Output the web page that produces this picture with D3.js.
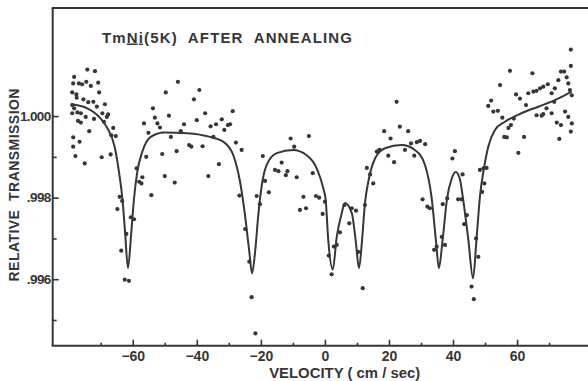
<!DOCTYPE html>
<html>
<head>
<meta charset="utf-8">
<script src="https://cdn.jsdelivr.net/npm/d3@7"></script>
<style>
  html, body { margin: 0; padding: 0; background: #fff; }
  svg { display: block; }
  text { font-family: "Liberation Sans", Arial, sans-serif; fill: #363636; }
</style>
</head>
<body>
<svg id="chart" width="588" height="381"></svg>
<script>
// Mössbauer spectrum of TmNi at 5 K after annealing.
// Transmission values are stored ×1000 (1000 = relative transmission 1.000).

// Measured points: source velocity (cm/sec) and relative transmission ×1000
const pointVelocity = [
  -74.2, -71.8, -78.3, -78.6, -76.8, -75.8, -74.5, -73.1, -70.8, -70.5,
  -78.9, -77.6, -77.5, -75.4, -73.9, -72.3, -71.2, -68.7, -78.9, -78.3,
  -77.3, -76.2, -74.7, -78.9, -72.1, -69.5, -67.7, -68.1, -77.1, -76.2,
  -69.0, -73.6, -66.1, -66.7, -65.3, -78.6, -76.6, -78.6, -77.9, -75.0,
  -69.7, -66.9, -64.1, -63.3, -64.8, -60.6, -59.6, -62.0, -63.6, -62.5,
  -61.2, -58.8, -58.0, -57.3, -57.0, -55.8, -54.2, -56.5, -55.1, -53.7,
  -53.1, -52.3, -51.5, -49.7, -48.7, -45.9, -44.0, -50.8, -48.1, -46.3,
  -50.0, -46.9, -42.4, -41.7, -45.0, -39.2, -40.9, -37.4, -40.0, -35.7,
  -34.0, -32.2, -31.4, -30.3, -29.6, -28.8, -38.2, -34.8, -33.1, -36.4,
  -27.8, -26.0, -26.7, -24.9, -23.6, -22.9, -21.7, -21.3, -20.3, -18.7,
  -19.4, -17.5, -15.6, -14.5, -13.5, -11.7, -12.2, -10.7, -9.6, -8.8,
  -5.0, -3.8, -6.7, -7.8, -5.9, -2.8, -1.8, 0.0, -0.7, 1.2,
  2.1, 2.8, 3.7, 4.7, 6.1, 7.6, 8.4, 9.7, 10.4, 11.8,
  12.5, 15.1, 22.4, 18.5, 20.5, 23.4, 26.0, 16.2, 17.0, 19.8,
  21.6, 25.0, 26.9, 28.7, 29.7, 31.3, 27.9, 13.1, 14.1, 30.5,
  32.0, 32.8, 34.1, 34.9, 36.5, 37.5, 36.8, 38.2, 39.8, 40.6,
  41.6, 42.7, 43.0, 43.5, 44.3, 47.2, 47.9, 45.8, 46.5, 49.1,
  49.8, 48.4, 49.5, 50.5, 51.0, 51.9, 52.6, 54.0, 54.7, 55.4,
  57.3, 58.1, 59.0, 56.0, 56.8, 57.8, 59.7, 60.9, 62.2, 60.4,
  62.8, 63.5, 64.8, 65.1, 66.1, 67.2, 68.2, 69.6, 70.8, 71.8,
  71.6, 69.2, 68.2, 66.1, 67.7, 70.8, 72.4, 73.7, 73.2, 75.0,
  76.0, 77.1, 76.8, 74.7, 73.7, 72.9, 75.5, 76.0, 76.8, 76.8,
  76.5, 77.1
];
const pointTransmission = [
  1001.14, 1001.10, 1000.96, 1000.80, 1000.80, 1000.78, 1000.84, 1000.74, 1000.82, 1000.58,
  1000.58, 1000.53, 1000.45, 1000.41, 1000.34, 1000.35, 1000.23, 1000.29, 1000.27, 1000.19,
  1000.09, 1000.07, 999.98, 1000.07, 999.93, 1000.07, 1000.04, 999.98, 999.88, 999.84,
  999.86, 999.63, 999.71, 999.53, 999.51, 999.48, 999.37, 999.25, 999.02, 998.84,
  998.99, 999.06, 998.02, 997.92, 997.72, 997.52, 997.47, 997.11, 996.70, 995.99,
  995.96, 998.72, 998.39, 998.35, 998.50, 999.00, 998.06, 999.82, 999.59, 1000.19,
  999.96, 999.82, 999.72, 1000.58, 1000.01, 1000.84, 999.80, 999.07, 999.49, 999.14,
  998.53, 998.37, 999.29, 999.25, 999.63, 1000.64, 1000.41, 1000.07, 999.90, 999.75,
  999.80, 999.92, 999.66, 999.78, 999.80, 1000.12, 999.26, 999.49, 998.82, 998.53,
  999.35, 999.17, 998.05, 997.23, 996.43, 995.56, 994.67, 998.04, 997.84, 998.41,
  999.02, 998.13, 998.68, 998.65, 998.86, 998.65, 998.55, 999.45, 999.25, 998.50,
  999.51, 998.60, 998.02, 997.70, 997.74, 998.04, 998.00, 997.90, 997.60, 996.58,
  996.12, 996.80, 996.84, 997.15, 997.82, 997.37, 997.74, 997.68, 996.67, 995.78,
  997.82, 998.35, 1000.35, 999.63, 999.45, 999.74, 999.63, 999.13, 999.17, 999.03,
  998.87, 999.17, 999.33, 999.36, 999.39, 999.31, 999.03, 998.73, 998.57, 997.96,
  997.78, 997.74, 996.72, 996.80, 997.04, 996.84, 997.84, 997.98, 998.96, 999.14,
  997.96, 997.96, 998.57, 997.35, 997.57, 997.00, 996.55, 995.82, 995.51, 998.14,
  998.35, 998.68, 998.72, 998.73, 1000.25, 1000.38, 1000.11, 1000.13, 1000.76, 999.96,
  999.71, 999.78, 999.94, 999.49, 999.48, 1001.11, 1000.53, 1000.43, 999.49, 999.10,
  1000.27, 1000.56, 1001.05, 1000.60, 1000.62, 1000.68, 1000.72, 1000.78, 1000.56, 1000.68,
  1000.35, 1000.19, 1000.05, 1000.02, 1000.01, 1000.07, 999.84, 999.78, 999.44, 1000.11,
  999.98, 999.82, 999.62, 1001.09, 1001.09, 1000.88, 1000.95, 1000.80, 1001.23, 1001.63,
  1000.64, 1000.51
];

// Fitted spectrum (six absorption lines), sampled along the velocity axis
const fitVelocity = [
  -79.2, -74.2, -70.0, -67.9, -65.8, -64.3, -63.25, -62.4, -61.5, -60.45,
  -59.6, -58.6, -57.0, -54.4, -50.2, -43.0, -35.9, -31.7, -28.6, -26.5,
  -24.95, -23.6, -22.75, -21.8, -20.8, -19.7, -18.2, -15.05, -9.9, -5.7,
  -2.55, -0.5, 0.25, 1.05, 2.45, 3.7, 5.25, 6.25, 8.4, 9.6,
  10.65, 11.6, 12.5, 13.55, 15.65, 18.75, 24.0, 28.1, 31.25, 33.35,
  34.7, 35.6, 36.7, 38.15, 39.6, 40.85, 42.1, 43.2, 44.8, 46.25,
  47.4, 48.4, 49.75, 51.0, 53.1, 56.2, 61.4, 66.6, 71.8, 77.05
];
const fitTransmission = [
  1000.29, 1000.19, 999.94, 999.70, 999.29, 998.63, 997.98, 997.16, 996.27, 997.16,
  997.98, 998.63, 999.13, 999.49, 999.60, 999.58, 999.49, 999.37, 999.04, 998.39,
  997.57, 996.67, 996.14, 996.67, 997.57, 998.31, 998.80, 999.09, 999.17, 999.04,
  998.72, 998.23, 997.94, 996.96, 996.24, 997.04, 997.62, 997.87, 997.62, 996.96,
  996.27, 996.96, 997.86, 998.39, 998.96, 999.21, 999.29, 999.17, 998.80, 997.98,
  996.92, 996.27, 996.92, 997.98, 998.47, 998.63, 998.47, 997.94, 996.96, 996.02,
  997.04, 998.02, 998.76, 999.25, 999.66, 999.86, 1000.07, 1000.23, 1000.39, 1000.60
];

// Axis ticks
const xMajorTicks = [-60, -40, -20, 0, 20, 40, 60];
const xMinorTicks = [-70, -50, -30, -10, 10, 30, 50, 70];
const yMajorTicks = [1000, 998, 996];
const yMajorLabels = ["1.000", ".998", ".996"];
const yMinorTicks = [999, 997, 995];

const titleParts = ["Tm", "Ni", "(5K)  AFTER  ANNEALING"];
const xTitle = "VELOCITY ( cm / sec)";
const yTitle = "RELATIVE  TRANSMISSION";

const ink = "#363636";
const svg = d3.select("#chart");

const x = d3.scaleLinear().domain([-85, 82]).range([52.7, 587.5]);
const y = d3.scaleLinear().domain([994.37, 1002.65]).range([345.7, 8]);

// Frame: left axis, bottom axis and top rule
const frame = svg.append("g").attr("stroke", ink).attr("stroke-width", 2).attr("fill", "none");
frame.append("line").attr("x1", x.range()[0]).attr("x2", x.range()[0])
  .attr("y1", y.range()[1]).attr("y2", y.range()[0]);
frame.append("line").attr("x1", x.range()[0] - 1).attr("x2", 588)
  .attr("y1", y.range()[0]).attr("y2", y.range()[0]);
frame.append("line").attr("x1", x.range()[0] - 1).attr("x2", 588)
  .attr("y1", y.range()[1]).attr("y2", y.range()[1]);

function styleAxis(g) {
  g.select(".domain").remove();
  g.selectAll(".tick line").attr("stroke", ink).attr("stroke-width", 1.6);
  g.selectAll(".tick text").attr("fill", ink).attr("font-family", "Liberation Sans, Arial, sans-serif");
}

// x axis: inward ticks, labelled majors
svg.append("g").attr("transform", `translate(0,${y.range()[0]})`)
  .call(d3.axisBottom(x).tickValues(xMajorTicks).tickSizeInner(-6).tickSizeOuter(0)
    .tickPadding(5.5).tickFormat(d3.format("d")))
  .call(styleAxis)
  .call(g => g.selectAll(".tick text").attr("font-size", 14).attr("font-weight", "bold"));
svg.append("g").attr("transform", `translate(0,${y.range()[0]})`)
  .call(d3.axisBottom(x).tickValues(xMinorTicks).tickSizeInner(-3).tickSizeOuter(0).tickFormat(""))
  .call(styleAxis);

// y axis
svg.append("g").attr("transform", `translate(${x.range()[0]},0)`)
  .call(d3.axisLeft(y).tickValues(yMajorTicks).tickSizeInner(-6).tickSizeOuter(0)
    .tickPadding(2).tickFormat((d, i) => yMajorLabels[i]))
  .call(styleAxis)
  .call(g => g.selectAll(".tick text").attr("font-size", 13.5).attr("font-weight", "bold")
    .attr("letter-spacing", -0.6));
svg.append("g").attr("transform", `translate(${x.range()[0]},0)`)
  .call(d3.axisLeft(y).tickValues(yMinorTicks).tickSizeInner(-4).tickSizeOuter(0).tickFormat(""))
  .call(styleAxis);

// Fitted curve
const fit = fitVelocity.map((v, i) => [v, fitTransmission[i]]);
svg.append("path")
  .attr("d", d3.line().x(d => x(d[0])).y(d => y(d[1])).curve(d3.curveMonotoneX)(fit))
  .attr("fill", "none").attr("stroke", ink).attr("stroke-width", 2);

// Data points
svg.append("g").attr("fill", ink)
  .selectAll("circle")
  .data(pointVelocity.map((v, i) => [v, pointTransmission[i]]))
  .join("circle")
  .attr("cx", d => x(d[0])).attr("cy", d => y(d[1])).attr("r", 2.1);

// Title
const title = svg.append("text").attr("x", 102).attr("y", 42.5)
  .attr("font-size", 15).attr("font-weight", "bold")
  .attr("textLength", 250).attr("lengthAdjust", "spacing")
  .style("white-space", "pre");
title.append("tspan").text(titleParts[0]);
title.append("tspan").style("text-decoration", "underline").text(titleParts[1]);
title.append("tspan").text(titleParts[2]);

// Axis titles
svg.append("text").attr("x", 344.7).attr("y", 378.3).attr("text-anchor", "middle")
  .attr("font-size", 14.5).attr("font-weight", "bold")
  .attr("textLength", 151).attr("lengthAdjust", "spacingAndGlyphs")
  .style("white-space", "pre").text(xTitle);

svg.append("text").attr("transform", "translate(18.5,185) rotate(-90)")
  .attr("text-anchor", "middle").attr("font-size", 14).attr("font-weight", "bold")
  .attr("textLength", 193).attr("lengthAdjust", "spacing")
  .style("white-space", "pre").text(yTitle);
</script>
</body>
</html>
